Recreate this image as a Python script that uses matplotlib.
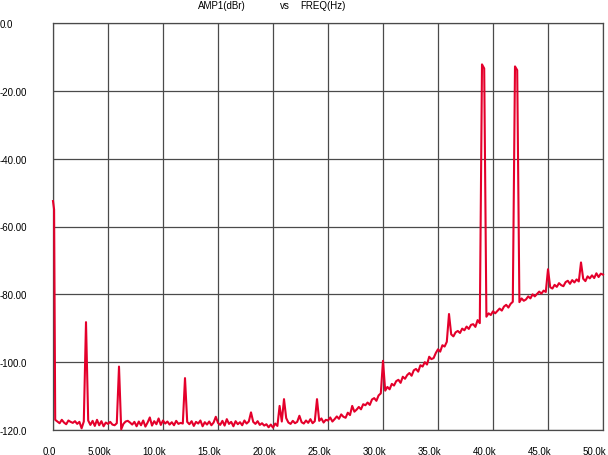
import numpy as np
import matplotlib
matplotlib.use("Agg")
import matplotlib.pyplot as plt
from matplotlib.transforms import ScaledTranslation

# frequency grid (Hz): 0, 100, then 200 Hz bins up to 50 kHz
freq = np.concatenate([[0, 100], np.arange(200, 50001, 200)])

# amplitude (dBr), one row per 5 kHz
amp_0_5k = [-52.5, -55.0, -117.0, -117.5, -118.0, -117.0, -117.8, -118.3, -117.2, -117.6, -117.9,
            -117.4, -118.2, -117.6, -119.5, -117.5, -88.2, -117.2, -118.5, -117.3, -118.8,
            -117.0, -118.6, -117.4, -118.9, -117.8]
amp_5_10k = [-118.2, -117.6, -118.4, -118.6, -118.0, -101.3, -119.8, -118.2, -117.5, -117.3,
             -117.8, -118.4, -117.6, -118.9, -117.5, -118.6, -117.2, -119.0, -117.8, -116.3,
             -118.7, -117.4, -118.3, -116.6, -118.5]
amp_10_15k = [-117.2, -118.1, -117.5, -118.4, -117.7, -118.6, -117.3, -118.2, -117.9, -118.1,
              -104.7, -117.6, -118.3, -117.4, -118.8, -117.6, -118.1, -117.2, -118.9, -117.7,
              -118.4, -117.5, -118.6, -117.8, -116.1]
amp_15_20k = [-117.9, -118.5, -117.3, -118.7, -116.8, -118.2, -117.6, -118.9, -117.4, -118.3,
              -117.7, -118.6, -117.2, -118.1, -117.5, -114.8, -117.6, -118.2, -117.4, -118.5,
              -118.0, -118.7, -118.3, -119.2, -118.4]
amp_20_25k = [-119.3, -118.1, -118.8, -112.9, -117.5, -110.9, -116.5, -117.8, -118.2, -117.3,
              -118.0, -117.6, -115.8, -117.7, -118.1, -117.2, -117.9, -116.8, -118.0, -117.4,
              -110.9, -117.3, -116.6, -117.8, -117.0]
amp_25_30k = [-117.2, -116.3, -117.5, -116.8, -116.0, -116.7, -115.4, -116.1, -116.4, -114.9,
              -115.6, -112.9, -114.6, -114.0, -113.2, -113.9, -112.4, -112.7, -111.9, -112.6,
              -111.0, -110.6, -111.4, -109.8, -109.2]
amp_30_35k = [-99.6, -108.4, -107.3, -108.0, -106.4, -106.9, -105.6, -105.2, -106.1, -104.3,
              -104.9, -103.8, -103.2, -104.0, -102.4, -102.0, -102.8, -100.9, -101.3, -100.0,
              -100.7, -98.4, -99.1, -98.8, -97.3]
amp_35_40k = [-96.2, -96.9, -95.0, -95.4, -94.0, -85.8, -91.8, -92.4, -91.2, -90.8,
              -91.4, -90.1, -90.6, -89.5, -90.2, -89.0, -88.8, -89.6, -87.6, -88.5,
              -12.2, -13.4, -86.6, -85.6, -86.1]
amp_40_45k = [-85.0, -85.6, -84.9, -84.2, -84.8, -83.6, -83.1, -83.9, -82.8, -82.2,
              -12.8, -13.9, -82.3, -81.2, -81.9, -81.5, -80.6, -81.2, -80.0, -80.6,
              -79.9, -79.2, -79.8, -78.9, -79.3]
amp_45_50k = [-72.6, -77.9, -78.3, -77.2, -77.8, -76.7, -77.3, -77.6, -76.4, -76.0,
              -76.9, -75.8, -76.5, -75.6, -76.2, -70.6, -75.4, -76.1, -74.7, -75.3,
              -74.4, -75.2, -73.8, -74.9, -73.9, -74.2]

amp = (amp_0_5k + amp_5_10k + amp_10_15k + amp_15_20k + amp_20_25k
       + amp_25_30k + amp_30_35k + amp_35_40k + amp_40_45k + amp_45_50k)

xticks = [0, 5000, 10000, 15000, 20000, 25000, 30000, 35000, 40000, 45000, 50000]
xlabels = ["0.0", "5.00k", "10.0k", "15.0k", "20.0k", "25.0k", "30.0k", "35.0k", "40.0k", "45.0k", "50.0k"]
yticks = [0, -20, -40, -60, -80, -100, -120]
ylabels = ["0.0", "-20.00", "-40.00", "-60.00", "-80.00", "-100.0", "-120.0"]

plt.rcParams['font.family'] = ['Liberation Sans', 'DejaVu Sans']

fig = plt.figure(figsize=(6.08, 4.56), dpi=100)
ax = fig.add_axes([53 / 608, 1 - 431 / 456, 550 / 608, 407 / 456])

grid_col = '#4a4a4a'
ax.plot(freq, amp, color='#e4002b', lw=1.5, zorder=3, clip_on=False)

ax.set_xlim(0, 50000)
ax.set_ylim(-120, 0)
ax.set_xticks(xticks)
ax.set_xticklabels(xlabels, fontsize=7)
ax.set_yticks(yticks)
ax.set_yticklabels(ylabels, fontsize=7)
ax.tick_params(length=0)
ax.tick_params(axis='y', pad=38.2)
ax.tick_params(axis='x', pad=11.5)
for lab in ax.get_yticklabels():
    lab.set_horizontalalignment('left')
shift = ScaledTranslation(3 / 100, 0, fig.dpi_scale_trans)
for lab in ax.get_xticklabels():
    lab.set_horizontalalignment('right')
    lab.set_transform(lab.get_transform() + shift)

ax.grid(True, color=grid_col, lw=0.9)
for sp in ax.spines.values():
    sp.set_color(grid_col)
    sp.set_linewidth(0.9)

fig.text(198 / 608, 1 - 6 / 456, "AMP1(dBr)", fontsize=7, va='center', ha='left')
fig.text(280 / 608, 1 - 6 / 456, "vs", fontsize=7, va='center', ha='left')
fig.text(300 / 608, 1 - 6 / 456, "FREQ(Hz)", fontsize=7, va='center', ha='left')

fig.savefig("out.png", dpi=100)
